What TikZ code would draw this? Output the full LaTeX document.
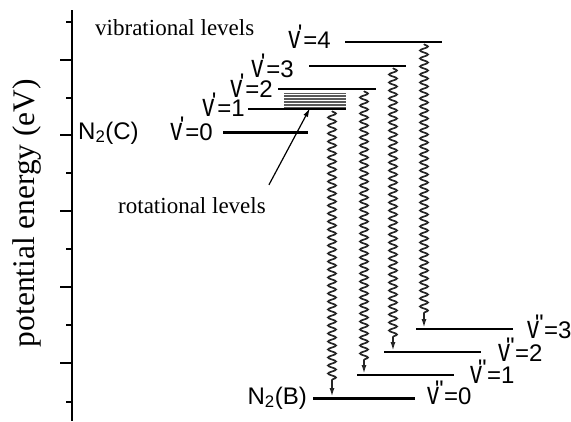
\documentclass[tikz,border=0pt]{standalone}
\usepackage{graphicx}
\usepackage{fontspec}
\setmainfont{Liberation Serif}
\newfontfamily\labfont{Liberation Sans}[Ligatures=ResetAll]
\usetikzlibrary{arrows.meta,decorations.pathmorphing}
\newcommand\vup{\scalebox{1}[1.35]{v}\kern-2.5pt\smash{\raisebox{7pt}{\textquotesingle}}\kern1pt}
\newcommand\vlo{\scalebox{1}[1.35]{v}\kern-4pt\smash{\raisebox{7pt}{\textquotedbl}}\kern0.5pt}

\begin{document}
\begin{tikzpicture}[x=1pt,y=-1pt,
    lab/.style={font=\labfont\fontsize{24}{26}\selectfont,inner sep=0pt},
    txt/.style={font=\fontsize{23}{26}\selectfont,inner sep=0pt},
    lev/.style={line width=1.2pt},
    ground/.style={line width=3pt},
    emit/.style={decorate,decoration={snake,amplitude=4pt,segment length=8pt,post length=14pt},
      line width=1.7pt,draw=black!85,-{Latex[length=9pt,width=5pt]}}]
  \useasboundingbox (0,0) rectangle (571,421);
  % energy axis
  \draw[line width=1.5pt] (72,10) -- (72,421);
  \foreach \y in {60,135,211,287,363}{
    \draw[line width=1.5pt] (60,\y) -- (72,\y);
  }
  \foreach \y in {22,98,173,249,325,402}{
    \draw[line width=1.5pt] (66,\y) -- (72,\y);
  }
  \node[inner sep=0pt,rotate=90] (ylab) at (27,213)
    {\resizebox{268pt}{!}{\fontsize{31}{33}\selectfont potential energy (eV)}};

  % N2(C) levels
  \foreach \y in {93.5,95,...,108.5}{
    \draw[gray!70!black,line width=0.8pt] (284,\y) -- (346,\y);
  }
  \draw[ground] (223,132) -- (308,132);
  \draw[lev] (248,109) -- (346,109);
  \draw[lev] (278,89) -- (376,89);
  \draw[lev] (309,66) -- (406,66);
  \draw[lev] (345,42) -- (442,42);
  \node[lab,anchor=east] (c0) at (213,132.5) {\vup=0};
  \node[lab,anchor=east] (c1) at (245,107.5) {\vup=1};
  \node[lab,anchor=east] (c2) at (273,89) {\vup=2};
  \node[lab,anchor=east] (c3) at (294,69) {\vup=3};
  \node[lab,anchor=east] (c4) at (331,40) {\vup=4};
  \node[lab,anchor=west] (nc) at (78,133) {N\textsubscript{2}(C)};

  % N2(B) levels
  \draw[ground] (313,398) -- (415,398);
  \draw[lev] (357,375) -- (454,375);
  \draw[lev] (384,352) -- (481,352);
  \draw[lev] (416,329) -- (513,329);
  \node[lab,anchor=west] (b0) at (427,396) {\vlo=0};
  \node[lab,anchor=west] (b1) at (470,375) {\vlo=1};
  \node[lab,anchor=west] (b2) at (498,353) {\vlo=2};
  \node[lab,anchor=west] (b3) at (527,330) {\vlo=3};
  \node[lab,anchor=east] (nb) at (307,398) {N\textsubscript{2}(B)};

  % emission
  \coordinate (rb) at (332,111);
  \coordinate (u2) at (364,91);
  \coordinate (u3) at (393,68);
  \coordinate (u4) at (424,44);
  \coordinate (l0) at (332,397);
  \coordinate (l1) at (364,374);
  \coordinate (l2) at (393,351);
  \coordinate (l3) at (424,328);
  \draw[emit] (rb) -- (l0);
  \draw[emit] (u2) -- (l1);
  \draw[emit] (u3) -- (l2);
  \draw[emit] (u4) -- (l3);

  \node[txt,anchor=base west] (vib) at (95,35) {vibrational levels};
  \node[txt,anchor=base west] (rot) at (118,213) {rotational levels};
  \coordinate (band) at (310,108);
  \draw[line width=1.2pt,-{Latex[length=9pt,width=5pt]}] ([shift={(3,-12)}]rot.north east) -- (band);
\end{tikzpicture}
\end{document}
